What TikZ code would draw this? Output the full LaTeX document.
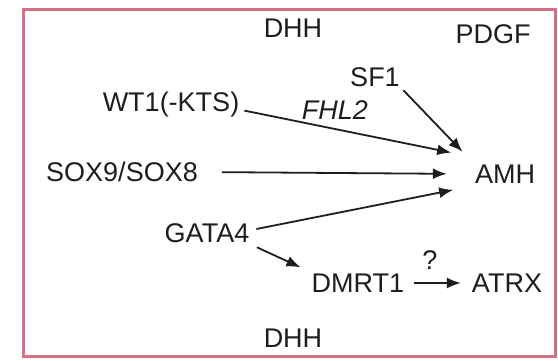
\documentclass[tikz,border=0pt]{standalone}
\usepackage{fontspec}
\setmainfont{Liberation Sans}
\usetikzlibrary{arrows.meta}
\definecolor{frame}{RGB}{215,110,135}
\definecolor{ink}{RGB}{30,30,30}
\tikzset{
  lbl/.style={inner sep=2pt, font=\fontsize{27}{30}\selectfont, text=ink},
  arr/.style={draw=ink, line width=1.8pt, -{Latex[length=14pt,width=11pt]}}
}
\begin{document}
\begin{tikzpicture}[x=1pt,y=-1pt]
\useasboundingbox (0,0) rectangle (558,361);
\draw[frame, line width=3pt] (23,10) rectangle (555,356);
\node[lbl] (dhhtop) at (293,28) {DHH};
\node[lbl] (pdgf) at (493,34) {PDGF};
\node[lbl] (sf1) at (375,77) {SF1};
\node[lbl] (wt1) at (171,105) {WT1(-KTS)};
\node[lbl] (sox) at (122,172) {SOX9/SOX8};
\node[lbl] (amh) at (505,174) {AMH};
\node[lbl] (gata4) at (207,233) {GATA4};
\node[lbl] (dmrt1) at (358,283) {DMRT1};
\node[lbl] (atrx) at (507,283) {ATRX};
\node[lbl] (q) at (430,260) {?};
\node[lbl] (dhhbot) at (293,338) {DHH};
\node[lbl, font=\fontsize{27}{30}\selectfont\itshape] (fhl2) at (335,110) {FHL2};
\draw[arr, shorten <=3pt, shorten >=22pt] ([yshift=-5pt]wt1.east) -- ([yshift=17pt]amh.west);
\draw[arr, shorten <=2pt, shorten >=15pt] (sf1.south east) -- (amh.north west);
\draw[arr, shorten <=22pt, shorten >=26pt] (sox.east) -- (amh.west);
\draw[arr, shorten <=5pt, shorten >=20pt] ([yshift=3pt]gata4.east) -- ([yshift=-12pt]amh.west);
\draw[arr, shorten <=6pt, shorten >=10pt] (gata4.south east) -- (dmrt1.north west);
\draw[arr, shorten <=8pt, shorten >=9pt] (dmrt1.east) -- (atrx.west);
\end{tikzpicture}
\end{document}
